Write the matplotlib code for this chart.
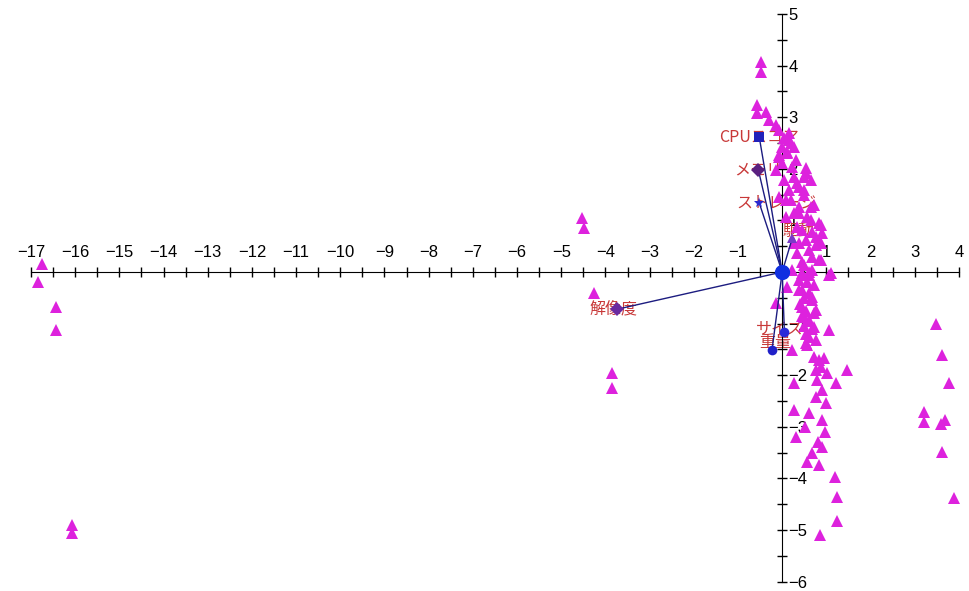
import numpy as np
import matplotlib
matplotlib.use('Agg')
from matplotlib import pyplot as plt
from matplotlib.ticker import MultipleLocator, FixedLocator, FuncFormatter

# sample scores (principal component 1 / 2)
score_x = [
    -16.74, -16.83, -16.43, -16.43, -16.06, -16.06,
    -4.53, -4.48, -4.25, -3.85, -3.85,
    3.48, 3.62, 3.78, 3.21, 3.21, 3.60, 3.69, 3.62, 3.89,
    -0.48, -0.48,
    -0.57, -0.36, -0.57, -0.29, -0.14, -0.07, 0.16, 0.16, 0.00, 0.27,
    -0.07, 0.11, 0.32, 0.00, 0.50, 0.27, 0.54, 0.66, 0.16, 0.38,
    0.50, 0.09, 0.38, 0.72, 0.27, 0.57, 0.84, 0.34, 0.68, 0.90,
    0.54, 0.77, 0.27, 0.68, 0.45, 0.84, 1.11,
    -0.07, 0.11, -0.14, 0.23, 0.54, 0.05, 0.34, 0.50, -0.07, 0.20,
    0.66, 0.38, 0.09, 0.66, 0.88, 0.45, 0.77, 0.38, 0.88, 0.61,
    0.34, 0.88, 0.50, 0.68, 0.23, 1.06, 0.05, 0.20,
    0.45, 0.61, 0.38, 0.57, 0.72, 0.45, 0.61, 0.50, 0.68, 0.40,
    0.55, 0.72, 0.45, 0.61, 0.50, 0.68, 0.55,
    0.11, -0.14, 0.45, 0.61, 0.38, 0.68, 0.45, 0.77, 0.61, 0.50,
    0.72, 1.06, 0.61, 0.77, 0.54, 0.23, 0.72, 0.95, 0.88, 0.77,
    1.47, 1.02, 0.27, 0.79, 1.22, 0.90, 0.77, 1.00, 0.27, 0.61,
    0.90, 0.90, 0.68, 0.84, 0.57,
    0.52, 0.98, 0.82, 0.32,
    0.57, 0.84, 1.20, 1.24, 0.86, 1.24,
]
score_y = [
    0.16, -0.19, -0.68, -1.12, -4.90, -5.06,
    1.05, 0.85, -0.41, -1.96, -2.25,
    -1.00, -1.61, -2.15, -2.71, -2.91, -2.95, -2.87, -3.49, -4.38,
    4.07, 3.88,
    3.24, 3.10, 3.08, 2.95, 2.85, 2.75, 2.69, 2.56, 2.42, 2.42,
    2.27, 2.31, 2.17, 2.11, 1.84, 1.84, 2.02, 1.78, 1.59, 1.65,
    1.49, 1.40, 1.26, 1.30, 1.14, 1.07, 0.95, 0.87, 0.78, 0.76,
    0.62, 0.52, 0.56, 0.29, 0.19, 0.23, -0.02,
    2.23, 2.33, 1.98, 2.03, 1.92, 1.78, 1.72, 1.59, 1.45, 1.40,
    1.26, 1.14, 1.07, 1.01, 0.91, 0.81, 0.68, 0.56, 0.56, 0.43,
    0.37, 0.23, 0.14, 0.04, 0.04, -0.06, 2.60, 2.50,
    -0.02, -0.06, -0.15, -0.20, -0.25, -0.35, -0.40, -0.50, -0.55, -0.62,
    -0.75, -0.80, -0.85, -0.95, -1.05, -1.10, -1.20,
    -0.29, -0.60, -0.06, 0.00, -0.35, -0.48, -0.68, -0.74, -0.93, -0.87,
    -1.07, -1.12, -1.26, -1.32, -1.38, -1.51, -1.65, -1.67, -1.84, -1.90,
    -1.90, -1.96, -2.15, -2.09, -2.15, -2.29, -2.42, -2.54, -2.67, -2.73,
    -2.87, -3.39, -3.51, -1.71, -1.41,
    -3.00, -3.10, -3.30, -3.20,
    -3.68, -3.74, -3.97, -4.36, -5.10, -4.83,
]

# variable loadings
var_names = ['CPUスコア', 'メモリ', 'ストレージ', '駆動', '解像度', 'サイズ', '重量']
load_x = [-0.52, -0.54, -0.52, 0.23, -3.73, 0.05, -0.23]
load_y = [2.62, 1.98, 1.34, 0.66, -0.72, -1.16, -1.51]
var_markers = ['s', 'D', '*', '^', 'D', 'o', 'o']
var_colors = ['#2222bb', '#5a2080', '#2a2ad0', '#7a3ac8', '#6a2aa0', '#2a2ad8', '#2020c8']
# label offset from the marker, in pixels
label_shift = [(0, 0), (0, 0), (17, 0), (6, 7), (-4, 0), (-4, 2), (3, 7)]

x_lo, x_hi = -17, 4
y_lo, y_hi = -6, 5

fig = plt.figure(figsize=(9.7, 5.91), dpi=100)
ax = fig.add_axes([0, 0, 1, 1])
ax.set_xlim(-17.70, 4.25)
ax.set_ylim(-6.18, 5.27)

# axes cross at the origin
ax.spines['top'].set_position(('data', 0))
ax.spines['right'].set_position(('data', 0))
ax.spines['bottom'].set_visible(False)
ax.spines['left'].set_visible(False)
ax.spines['top'].set_bounds(x_lo, x_hi)
ax.spines['right'].set_bounds(y_lo, y_hi)
ax.xaxis.set_ticks_position('top')
ax.yaxis.set_ticks_position('right')

ax.xaxis.set_major_locator(MultipleLocator(1))
ax.xaxis.set_minor_locator(FixedLocator(np.arange(x_lo, x_hi + 0.01, 0.5)))
ax.yaxis.set_major_locator(MultipleLocator(1))
ax.yaxis.set_minor_locator(FixedLocator(np.arange(y_lo, y_hi + 0.01, 0.5)))

def tick_fmt(v, pos):
    v = int(round(v))
    if v == 0:
        return ''
    return f'\u2212{abs(v)}' if v < 0 else str(v)

ax.xaxis.set_major_formatter(FuncFormatter(tick_fmt))
ax.yaxis.set_major_formatter(FuncFormatter(tick_fmt))
ax.tick_params(which='both', direction='inout', length=7, width=1, color='black')
ax.tick_params(axis='x', pad=5)
ax.tick_params(axis='y', pad=1)
for lab in ax.get_xticklabels() + ax.get_yticklabels():
    lab.set_fontfamily(['Liberation Sans', 'DejaVu Sans'])
    lab.set_fontsize(12)

# sample points
ax.plot(score_x, score_y, linestyle='none', marker='^', ms=9,
        color='#dd22dd', markeredgewidth=0, zorder=3)

# loading vectors, labels sit under the sample points
for i, name in enumerate(var_names):
    ax.plot([0, load_x[i]], [0, load_y[i]], color='#1c1c80', lw=1, zorder=4)
    ax.plot(load_x[i], load_y[i], marker=var_markers[i], ms=7 if var_markers[i] != '*' else 8,
            color=var_colors[i], markeredgewidth=0, zorder=5)
    ax.annotate(name, (load_x[i], load_y[i]), xytext=(label_shift[i][0] * 0.72, label_shift[i][1] * 0.72),
                textcoords='offset points', ha='center', va='center',
                fontsize=11.5, color='#c83838',
                family=['Noto Sans CJK JP', 'DejaVu Sans'], zorder=2)

ax.plot(0, 0, marker='o', ms=11, color='#1030e0', markeredgewidth=0, zorder=6)

fig.savefig('out.png', dpi=100)
